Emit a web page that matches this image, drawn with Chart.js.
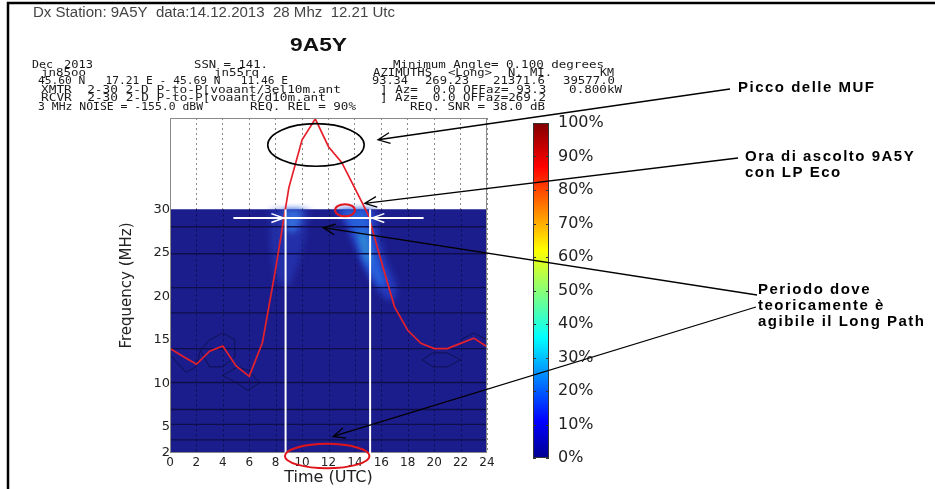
<!DOCTYPE html>
<html>
<head>
<meta charset="utf-8">
<script src="https://cdn.jsdelivr.net/npm/chart.js@4.4.1/dist/chart.umd.min.js"></script>
<style>
body { margin: 0; background: #fff; }
#wrap { position: relative; width: 935px; height: 489px; overflow: hidden; }
canvas { position: absolute; }
#cbar { left: 520px; top: 100px; }
#main { left: 0; top: 0; }
</style>
</head>
<body>
<div id="wrap">
  <canvas id="cbar" width="100" height="380"></canvas>
  <canvas id="main" width="935" height="489"></canvas>
</div>
<script>
// MUF curve (hour UTC -> MHz)
const hours = [0,1,2,3,4,5,6,7,8,9,10,11,12,13,14,15,16,17,18,19,20,21,22,23,24];
const mufMHz = [14.0,13.1,12.2,13.7,14.3,12.0,10.8,14.7,23.2,32.5,38.0,40.4,37.2,35.4,32.4,29.4,24.0,18.8,16.1,14.6,14.0,14.0,14.6,15.2,14.2];

const timeTicks = [0,2,4,6,8,10,12,14,16,18,20,22,24];
const freqTicks = [2,5,10,15,20,25,30];
const bandMHz = [28,24.9,21,18.1,14,10.1,7,5.3,3.5];
const coverageTopMHz = 30;

const relTicks = [0,10,20,30,40,50,60,70,80,90,100];
const relScale = [100];

// reliability blobs, [hour, MHz]
const blobLeftOuter = [[7.6,30],[10.6,30],[10.3,27.5],[9.8,24],[9.0,21],[8.0,22],[7.6,26]];
const blobLeftCore = [[8.6,30],[10.0,30],[9.9,28.3],[9.3,27.2],[8.7,27.8]];
const blobRightOuter = [[12.4,30],[15.6,30],[15.8,27],[16.4,24],[17.2,21],[17.0,19.5],[16.2,19.8],[15.4,21.5],[14.6,23.5],[13.9,26],[13.2,28.5]];
const blobRightMid = [[12.9,30],[15.0,30],[15.3,27],[15.8,24],[16.4,21.5],[15.9,21],[15.2,22.5],[14.5,24.5],[14.0,27],[13.3,29]];
const blobRightCore = [[14.4,27.5],[14.9,27.2],[15.1,25.2],[15.2,24.0],[14.9,23.8],[14.6,25],[14.3,26.6]];

// faint low-level contours, [hour, MHz]
const contourA = [[2.3,13.8],[3.0,15.0],[4.0,15.8],[4.9,15.0],[4.9,13.0],[4.0,11.9],[3.0,11.9]];
const contourB = [[4.0,10.9],[5.1,11.9],[5.9,11.5],[6.8,10.1],[5.9,9.2],[5.1,10.0]];
const contourC = [[0,13.3],[1.2,11.3],[2.0,11.9],[2.3,13.8]];
const contourD = [[19.1,12.7],[19.9,13.5],[21.0,13.5],[22.0,12.7],[21.0,11.9],[19.9,11.9]];
const contourE = [[22.0,15.0],[23.0,15.8],[24,15.0],[24,12.3]];

const blobs = [
  { pts: blobLeftOuter, color: 'rgba(45,70,205,0.45)' },
  { pts: blobRightOuter, color: 'rgba(40,70,210,0.7)' },
  { pts: blobLeftCore, color: 'rgba(52,112,224,0.9)' },
  { pts: blobRightMid, color: 'rgba(40,110,230,0.75)' },
  { pts: blobRightCore, color: 'rgba(50,160,205,0.65)' }
];
const contours = [
  { pts: contourA, closed: true },
  { pts: contourB, closed: true },
  { pts: contourC, closed: false },
  { pts: contourD, closed: true },
  { pts: contourE, closed: false }
];

// x, text, fit width (mono header as in the VOACAP plot)
const headerRows = [
  [65, [[32,'Dec',21],[64,'2013',29],[194,'SSN = 141.',74],[393,'Minimum Angle= 0.100 degrees',211]]],
  [73, [[41,'jn85oo',45],[214,'jn55rq',45],[373,'AZIMUTHS',59],[448,'<Long>',44],[508,'N. MI.',44],[600,'KM',14]]],
  [81.5, [[38,'45.60 N   17.21 E - 45.69 N   11.46 E',250],[372,'93.34',36],[425,'269.23',44],[493,'21371.6',52],[563,'39577.0',52]]],
  [90, [[41,'XMTR  2-30 2-D P-to-P[voaant/3el10m.ant',300],[380,'] Az=  0.0 OFFaz= 93.3   0.800kW',242]]],
  [98.5, [[41,'RCVR  2-30 2-D P-to-P[voaant/d10m.ant',285],[380,'] Az=  0.0 OFFaz=269.2',166]]],
  [107, [[38,'3 MHz NOISE = -155.0 dBW',165],[250,'REQ. REL = 90%',106],[410,'REQ. SNR = 38.0 dB',135]]]
];

const notes = [
  { lines: ['Picco delle MUF'], x: 738, y: 88, from: [730, 89], tip: [15.75, 38.0] },
  { lines: ['Ora di ascolto 9A5Y', 'con LP Eco'], x: 745, y: 157, from: [738, 158], tip: [14.75, 30.7] },
  { lines: ['Periodo dove', 'teoricamente è', 'agibile il Long Path'], x: 758, y: 290, from: [757, 295], tip: [11.6, 27.9] },
  { lines: [], x: 0, y: 0, from: [756, 307], tip: [12.35, 3.9] }
];

Chart.defaults.font.family = 'DejaVu Sans';
Chart.defaults.color = '#222';

function fitText(ctx, str, x, y, w) {
  const m = ctx.measureText(str).width;
  ctx.save();
  ctx.translate(x, y);
  ctx.scale(w / m, 1);
  ctx.fillText(str, 0, 0);
  ctx.restore();
}

function arrowTo(ctx, x1, y1, x2, y2, len, spread) {
  ctx.beginPath();
  ctx.moveTo(x1, y1);
  ctx.lineTo(x2, y2);
  const a = Math.atan2(y1 - y2, x1 - x2);
  ctx.moveTo(x2 + len * Math.cos(a - spread), y2 + len * Math.sin(a - spread));
  ctx.lineTo(x2, y2);
  ctx.lineTo(x2 + len * Math.cos(a + spread), y2 + len * Math.sin(a + spread));
  ctx.stroke();
}

function ellipse(ctx, x, y, h, f, dh, df) {
  const cx = x.getPixelForValue(h), cy = y.getPixelForValue(f);
  const rx = Math.abs(x.getPixelForValue(h + dh) - cx);
  const ry = Math.abs(y.getPixelForValue(f + df) - cy);
  ctx.beginPath();
  ctx.ellipse(cx, cy, rx, ry, 0, 0, Math.PI * 2);
  ctx.stroke();
}

function tracePath(ctx, x, y, pts, closed) {
  ctx.beginPath();
  pts.forEach(([h, f], i) => {
    const px = x.getPixelForValue(h), py = y.getPixelForValue(f);
    if (i === 0) ctx.moveTo(px, py); else ctx.lineTo(px, py);
  });
  if (closed) ctx.closePath();
}

const overlay = {
  id: 'overlay',
  beforeDraw(chart) {
    const ctx = chart.ctx;
    ctx.save();
    // page frame
    ctx.strokeStyle = '#000';
    ctx.lineWidth = 2.5;
    ctx.beginPath();
    ctx.moveTo(8, 489);
    ctx.lineTo(8, 3);
    ctx.lineTo(935, 3);
    ctx.stroke();

    ctx.textBaseline = 'middle';
    ctx.fillStyle = '#444';
    ctx.font = '14px "Liberation Sans"';
    fitText(ctx, 'Dx Station: 9A5Y  data:14.12.2013  28 Mhz  12.21 Utc', 33, 13, 362);

    ctx.fillStyle = '#111';
    ctx.font = 'bold 19px "Liberation Sans"';
    fitText(ctx, '9A5Y', 290, 46, 57);

    ctx.fillStyle = '#1a1a1a';
    ctx.font = '10px "DejaVu Sans Mono"';
    headerRows.forEach(([yy, parts]) => {
      parts.forEach(([xx, s, w]) => fitText(ctx, s, xx, yy, w));
    });
    ctx.restore();
  },
  afterDatasetDraw(chart, args) {
    if (args.index !== 0) return;
    const { ctx, chartArea: a, scales: { x, y } } = chart;
    ctx.save();
    ctx.beginPath();
    ctx.rect(a.left, a.top, a.right - a.left, a.bottom - a.top);
    ctx.clip();

    // dark dotted hour lines inside the coverage area
    ctx.strokeStyle = 'rgba(0,0,30,0.55)';
    ctx.lineWidth = 1;
    ctx.setLineDash([2, 3]);
    timeTicks.forEach(h => {
      const px = Math.round(x.getPixelForValue(h)) + 0.5;
      ctx.beginPath();
      ctx.moveTo(px, y.getPixelForValue(coverageTopMHz));
      ctx.lineTo(px, a.bottom);
      ctx.stroke();
    });
    ctx.setLineDash([]);

    ctx.filter = 'blur(3px)';
    blobs.forEach(b => {
      ctx.fillStyle = b.color;
      tracePath(ctx, x, y, b.pts, true);
      ctx.fill();
    });
    ctx.filter = 'none';

    ctx.strokeStyle = 'rgba(12,12,60,0.7)';
    ctx.lineWidth = 1;
    contours.forEach(c => {
      tracePath(ctx, x, y, c.pts, c.closed);
      ctx.stroke();
    });
    ctx.restore();
  },
  afterDraw(chart) {
    const { ctx, chartArea: a, scales: { x, y } } = chart;
    ctx.save();
    ctx.strokeStyle = '#8a8a8a';
    ctx.lineWidth = 1;
    ctx.strokeRect(a.left + 0.5, a.top + 0.5, a.right - a.left - 1, a.bottom - a.top - 1);

    // white window markers
    ctx.strokeStyle = '#fff';
    ctx.lineWidth = 2;
    [8.75, 15.15].forEach(h => {
      ctx.beginPath();
      ctx.moveTo(x.getPixelForValue(h), y.getPixelForValue(30));
      ctx.lineTo(x.getPixelForValue(h), y.getPixelForValue(2));
      ctx.stroke();
    });
    const wy = y.getPixelForValue(29);
    ctx.beginPath();
    ctx.moveTo(x.getPixelForValue(4.8), wy);
    ctx.lineTo(x.getPixelForValue(19.2), wy);
    ctx.stroke();
    ctx.lineWidth = 1.5;
    arrowTo(ctx, x.getPixelForValue(7.5), wy, x.getPixelForValue(8.6), wy, 13, 0.35);
    arrowTo(ctx, x.getPixelForValue(16.5), wy, x.getPixelForValue(15.3), wy, 13, 0.35);

    // ellipses
    ctx.lineWidth = 1.6;
    ctx.strokeStyle = '#000';
    ellipse(ctx, x, y, 11.05, 37.4, 3.65, 2.45);
    ctx.strokeStyle = '#e0151c';
    ctx.lineWidth = 2;
    ellipse(ctx, x, y, 13.25, 29.9, 0.75, 0.7);
    ellipse(ctx, x, y, 11.9, 1.65, 3.2, 1.4);

    // arrows + notes
    ctx.strokeStyle = '#000';
    ctx.lineWidth = 1.3;
    notes.forEach(n => {
      arrowTo(ctx, n.from[0], n.from[1], x.getPixelForValue(n.tip[0]), y.getPixelForValue(n.tip[1]), 13, 0.42);
    });
    ctx.fillStyle = '#000';
    ctx.font = 'bold 15px "Liberation Sans"';
    ctx.textBaseline = 'middle';
    ctx.letterSpacing = '1.5px';
    notes.forEach(n => {
      n.lines.forEach((s, i) => ctx.fillText(s, n.x, n.y + i * 16));
    });
    ctx.restore();
  }
};

const datasets = [
  {
    data: [{ x: 0, y: coverageTopMHz }, { x: 24, y: coverageTopMHz }],
    fill: 'start',
    backgroundColor: '#1c1d8c',
    borderWidth: 0,
    pointRadius: 0,
    order: 3
  }
];
bandMHz.forEach(f => datasets.push({
  data: [{ x: 0, y: f }, { x: 24, y: f }],
  borderColor: '#0e0f4a',
  borderWidth: 1.3,
  pointRadius: 0,
  order: 2
}));
datasets.push({
  data: hours.map((h, i) => ({ x: h, y: mufMHz[i] })),
  borderColor: '#e5202b',
  borderWidth: 1.7,
  pointRadius: 0,
  tension: 0,
  order: 1
});

new Chart(document.getElementById('main'), {
  type: 'line',
  data: { datasets },
  options: {
    responsive: false,
    devicePixelRatio: 1,
    animation: false,
    layout: { padding: { left: 114, right: 448, top: 118, bottom: 0 } },
    plugins: { legend: { display: false }, tooltip: { enabled: false } },
    scales: {
      x: {
        type: 'linear',
        min: 0,
        max: 24,
        afterBuildTicks: s => { s.ticks = timeTicks.map(v => ({ value: v })); },
        afterFit: s => { s.height = 36; },
        ticks: { font: { size: 12 }, color: '#222', padding: 3, maxRotation: 0 },
        grid: { color: '#8a8a8a', drawTicks: false },
        border: { display: false, dash: [2, 3] },
        title: { display: true, text: 'Time (UTC)', font: { size: 16 }, color: '#222', padding: { top: 2, bottom: 2 } }
      },
      y: {
        type: 'linear',
        min: 2,
        max: 40.5,
        afterBuildTicks: s => { s.ticks = freqTicks.map(v => ({ value: v })); },
        afterFit: s => { s.width = 56; },
        ticks: { font: { size: 13 }, color: '#222', padding: 0 },
        grid: { display: false, drawTicks: false },
        border: { display: false },
        title: { display: true, text: 'Frequency (MHz)', font: { size: 15 }, color: '#222' }
      }
    }
  },
  plugins: [overlay]
});

const jet = [[0, '#00008f'], [0.11, '#0000ff'], [0.36, '#00ffff'], [0.62, '#ffff00'], [0.87, '#ff0000'], [1, '#800000']];

const barFrame = {
  id: 'barFrame',
  afterDraw(chart) {
    const { ctx, chartArea: a, scales: { y } } = chart;
    ctx.save();
    ctx.strokeStyle = '#333';
    ctx.lineWidth = 1;
    ctx.strokeRect(a.left + 0.5, a.top + 0.5, a.right - a.left - 1, a.bottom - a.top - 1);
    relTicks.forEach(v => {
      const py = Math.round(y.getPixelForValue(v)) + 0.5;
      ctx.beginPath();
      ctx.moveTo(a.left, py); ctx.lineTo(a.left + 3, py);
      ctx.moveTo(a.right - 3, py); ctx.lineTo(a.right, py);
      ctx.stroke();
    });
    ctx.restore();
  }
};

new Chart(document.getElementById('cbar'), {
  type: 'bar',
  data: {
    labels: ['rel'],
    datasets: [{
      data: relScale,
      barPercentage: 1,
      categoryPercentage: 1,
      borderWidth: 0,
      backgroundColor: c => {
        const a = c.chart.chartArea;
        if (!a) return '#00008f';
        const g = c.chart.ctx.createLinearGradient(0, a.bottom, 0, a.top);
        jet.forEach(([p, col]) => g.addColorStop(p, col));
        return g;
      }
    }]
  },
  options: {
    responsive: false,
    devicePixelRatio: 1,
    animation: false,
    layout: { padding: { left: 13, right: 0, top: 23, bottom: 22 } },
    plugins: { legend: { display: false }, tooltip: { enabled: false } },
    scales: {
      x: { display: false },
      y: {
        position: 'right',
        min: 0,
        max: 100,
        afterBuildTicks: s => { s.ticks = relTicks.map(v => ({ value: v })); },
        afterFit: s => { s.width = 71; },
        ticks: { font: { size: 16 }, color: '#222', padding: 9, callback: v => v + '%' },
        grid: { display: false, drawTicks: false },
        border: { display: false }
      }
    }
  },
  plugins: [barFrame]
});
</script>
</body>
</html>
